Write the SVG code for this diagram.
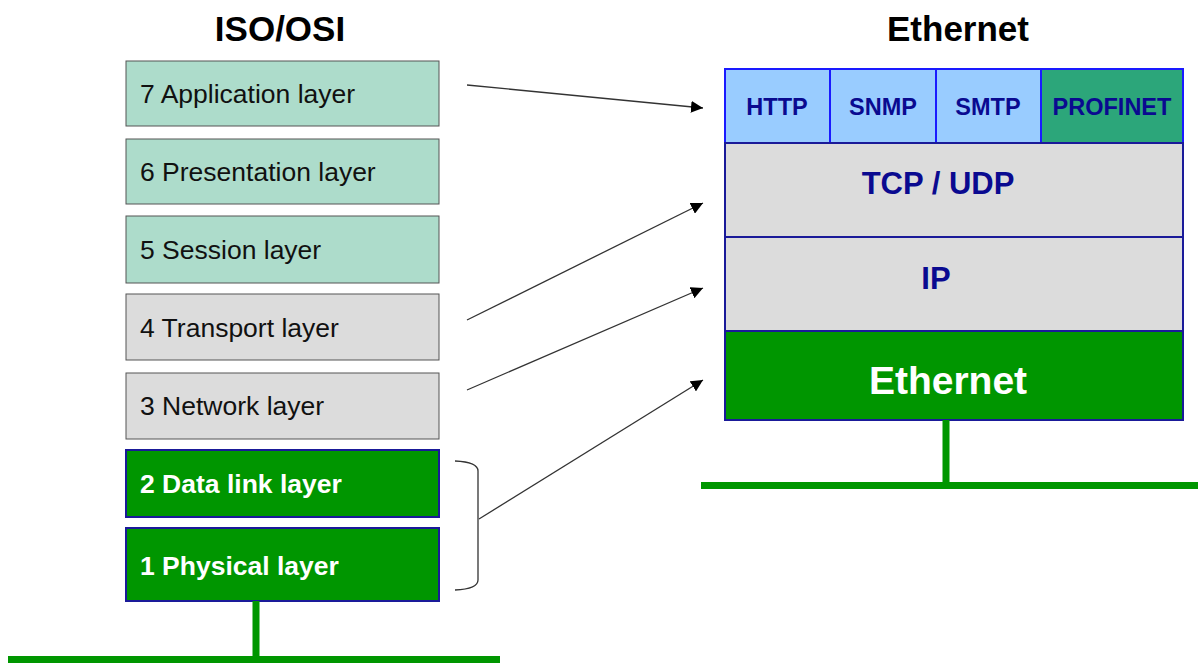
<svg xmlns="http://www.w3.org/2000/svg" width="1198" height="663" viewBox="0 0 1198 663">
<defs>
<style>
text{font-family:"Liberation Sans",Arial,sans-serif}
.title{font-size:35px;font-weight:bold;fill:#000;text-anchor:middle}
.teal{fill:#addccb;stroke:#555;stroke-width:1}
.gray{fill:#dcdcdc;stroke:#555;stroke-width:1}
.green{fill:#009600;stroke:#1a1a99;stroke-width:2}
.lt{font-size:26.5px;fill:#111}
.lg{font-size:26.5px;fill:#fff;font-weight:bold}
.blue{fill:#99ccff;stroke:#1a1aff;stroke-width:2}
.prof{fill:#2ca67a;stroke:#1a1aff;stroke-width:2}
.rgray{fill:#dcdcdc;stroke:#1a1a99;stroke-width:2}
.rt{font-weight:bold;fill:#0a0a90;text-anchor:middle}
.bus{stroke:#009600;stroke-width:7;fill:none}
.conn{stroke:#333;stroke-width:1.3;fill:none}
</style>
<marker id="ah" viewBox="0 0 10 10" refX="10" refY="5" markerWidth="12" markerHeight="12" markerUnits="userSpaceOnUse" orient="auto">
<path d="M0,0 L10,5 L0,10 z" fill="#000"/>
</marker>
</defs>
<rect width="1198" height="663" fill="#fff"/>
<text class="title" x="280" y="41">ISO/OSI</text>
<text class="title" x="958" y="41">Ethernet</text>

<g id="osi7"><rect class="teal" x="126" y="61" width="313" height="65"/><text class="lt" x="140" y="103">7 Application layer</text></g>
<g id="osi6"><rect class="teal" x="126" y="139" width="313" height="65"/><text class="lt" x="140" y="181">6 Presentation  layer</text></g>
<g id="osi5"><rect class="teal" x="126" y="216" width="313" height="67"/><text class="lt" x="140" y="259">5 Session layer</text></g>
<g id="osi4"><rect class="gray" x="126" y="294" width="313" height="66"/><text class="lt" x="140" y="337">4 Transport layer</text></g>
<g id="osi3"><rect class="gray" x="126" y="373" width="313" height="66"/><text class="lt" x="140" y="415">3 Network layer</text></g>
<g id="osi2"><rect class="green" x="126" y="450" width="313" height="67"/><text class="lg" x="140" y="493">2 Data link layer</text></g>
<g id="osi1"><rect class="green" x="126" y="528" width="313" height="73"/><text class="lg" x="140" y="575">1 Physical layer</text></g>

<g id="bus-left"><path class="bus" d="M256,601 V658 M8,659.5 H500"/></g>

<g id="http"><rect class="blue" x="725" y="69" width="105" height="74"/><text class="rt" x="777" y="115" font-size="23.5">HTTP</text></g>
<g id="snmp"><rect class="blue" x="830" y="69" width="106" height="74"/><text class="rt" x="883" y="115" font-size="23.5">SNMP</text></g>
<g id="smtp"><rect class="blue" x="936" y="69" width="105" height="74"/><text class="rt" x="988" y="115" font-size="23.5">SMTP</text></g>
<g id="profinet"><rect class="prof" x="1041" y="69" width="142" height="74"/><text class="rt" x="1112" y="115" font-size="23.5">PROFINET</text></g>
<g id="tcpudp"><rect class="rgray" x="725" y="143" width="458" height="94"/><text class="rt" x="938" y="194" font-size="31">TCP / UDP</text></g>
<g id="ip"><rect class="rgray" x="725" y="237" width="458" height="94"/><text class="rt" x="936" y="289" font-size="31">IP</text></g>
<g id="ethernet"><rect class="green" x="725" y="331" width="458" height="89"/><text class="rt" x="948" y="394" font-size="39" style="fill:#fff">Ethernet</text></g>

<g id="bus-right"><path class="bus" d="M946,420 V484 M701,485.5 H1198"/></g>

<g id="connectors">
<line class="conn" x1="467" y1="85" x2="703" y2="108" marker-end="url(#ah)"/>
<line class="conn" x1="467" y1="320" x2="703" y2="203" marker-end="url(#ah)"/>
<line class="conn" x1="467" y1="390" x2="703" y2="288" marker-end="url(#ah)"/>
<line class="conn" x1="479" y1="519" x2="703" y2="380" marker-end="url(#ah)"/>
<path class="conn" d="M455,461 Q478,462 478,471 V580 Q478,589 455,590"/>
</g>
</svg>
